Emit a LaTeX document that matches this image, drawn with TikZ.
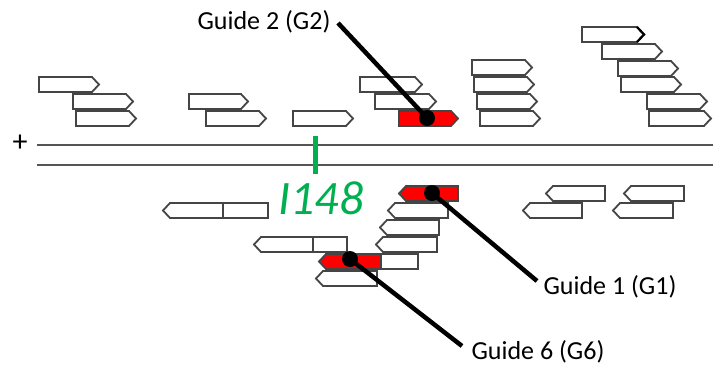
\documentclass[tikz,border=0pt]{standalone}
\usepackage{fontspec}
\setmainfont{Carlito}
\usetikzlibrary{calc}
\definecolor{olgray}{HTML}{454545}
\definecolor{strandgray}{HTML}{555555}
\definecolor{ogreen}{HTML}{00B050}
\definecolor{ored}{HTML}{FF0000}
\tikzset{
  gbox/.style={draw=olgray, line width=1.8pt, line join=miter, fill=white},
  strand/.style={draw=strandgray, line width=2.3pt},
  guideline/.style={draw=black, line width=4.5pt},
  gdot/.style={circle, fill=black, minimum size=16pt, inner sep=0pt},
  glabel/.style={font=\fontsize{26}{30}\selectfont, inner sep=0pt},
}
% right-pointing box: [fill]{name}{x1}{x2}{ytop}
\newcommand\rbox[5][white]{%
  \draw[gbox, fill=#1] (#3,#5) -- (#4-7,#5) -- (#4,#5+7.5) -- (#4-7,#5+15) -- (#3,#5+15) -- cycle;
  \coordinate (#2) at ({(#3+#4)/2},#5+7.5);}
% left-pointing box: [fill]{name}{xtip}{x2}{ytop}
\newcommand\lbox[5][white]{%
  \draw[gbox, fill=#1] (#3,#5+7.5) -- (#3+7,#5) -- (#4,#5) -- (#4,#5+15) -- (#3+7,#5+15) -- cycle;
  \coordinate (#2) at ({(#3+#4)/2},#5+7.5);}
\begin{document}
\begin{tikzpicture}[x=1pt,y=-1pt]
\useasboundingbox (0,0) rectangle (720,365);
% strands
\coordinate (s1a) at (37,145); \coordinate (s1b) at (713,145);
\coordinate (s2a) at (37,165); \coordinate (s2b) at (713,165);
\draw[strand] (s1a) -- (s1b);
\draw[strand] (s2a) -- (s2b);
\node[font=\fontsize{30}{30}\selectfont, inner sep=0pt] (plus) at (20,143) {+};
% top strand boxes
\rbox{r1}{39}{99}{77}
\rbox{r2}{73}{133}{94}
\rbox{r3}{76}{136}{111}
\rbox{r4}{189}{248}{94}
\rbox{r5}{206}{266}{111}
\rbox{r6}{293}{353}{111}
\rbox{r7}{360}{422}{77}
\rbox{r8}{375}{436}{94}
\rbox[ored]{rg2}{399}{458}{111}
\rbox{a1}{472}{532}{60}
\rbox{a2}{474}{534}{77}
\rbox{a3}{477}{537}{94}
\rbox{a4}{480}{540}{111}
\rbox{b1}{582}{644}{27}
\draw[black, line width=2.2pt] (637,27) -- (644,34.5) -- (637,42);
\rbox{b2}{602}{662}{44}
\rbox{b3}{618}{678}{61}
\rbox{b4}{621}{681}{77}
\rbox{b5}{647}{707}{94}
\rbox{b6}{649}{711}{111}
% bottom strand boxes
\lbox{c1}{163}{268}{203}
\draw[olgray, line width=1.8pt] (223,203) -- (223,218);
\lbox{c2}{254}{347}{237}
\draw[olgray, line width=1.8pt] (313,237) -- (313,252);
\lbox[ored]{rg1}{399}{458}{186}
\lbox{d1}{388}{448}{203}
\lbox{d2}{380}{439}{220}
\lbox{d3}{376}{437}{237}
\fill[ored] (319,261.5) -- (326,254) -- (381,254) -- (381,269) -- (326,269) -- cycle;
\draw[gbox, fill=none] (319,261.5) -- (326,254) -- (418,254) -- (418,269) -- (326,269) -- cycle;
\draw[olgray, line width=1.8pt] (381,254) -- (381,269);
\coordinate (rg6) at (350,261.5);
\lbox{d4}{316}{377}{271}
\lbox{e1}{546}{605}{186}
\lbox{e2}{523}{582}{203}
\lbox{e3}{624}{684}{186}
\lbox{e4}{613}{673}{203}
% I148 site
\coordinate (t1) at (315.5,136); \coordinate (t2) at (315.5,174);
\draw[ogreen, line width=4.5pt] (t1) -- (t2);
\node[font=\fontsize{48}{50}\selectfont\itshape, text=ogreen, inner sep=0pt] (site) at (321,198) {I148};
% guides
\node[glabel] (g2) at (264,22) {Guide 2 (G2)};
\node[glabel] (g1) at (610,287) {Guide 1 (G1)};
\node[glabel] (g6) at (538,352) {Guide 6 (G6)};
\coordinate (g2end) at (338,23);
\coordinate (g1end) at (537,281);
\coordinate (g6end) at (462,346);
\node[gdot] (d2dot) at (427,118) {};
\node[gdot] (d1dot) at (432,193) {};
\node[gdot] (d6dot) at (350,259) {};
\draw[guideline] (g2end) -- (d2dot.center);
\draw[guideline] (d1dot.center) -- (g1end);
\draw[guideline] (d6dot.center) -- (g6end);
\end{tikzpicture}
\end{document}
